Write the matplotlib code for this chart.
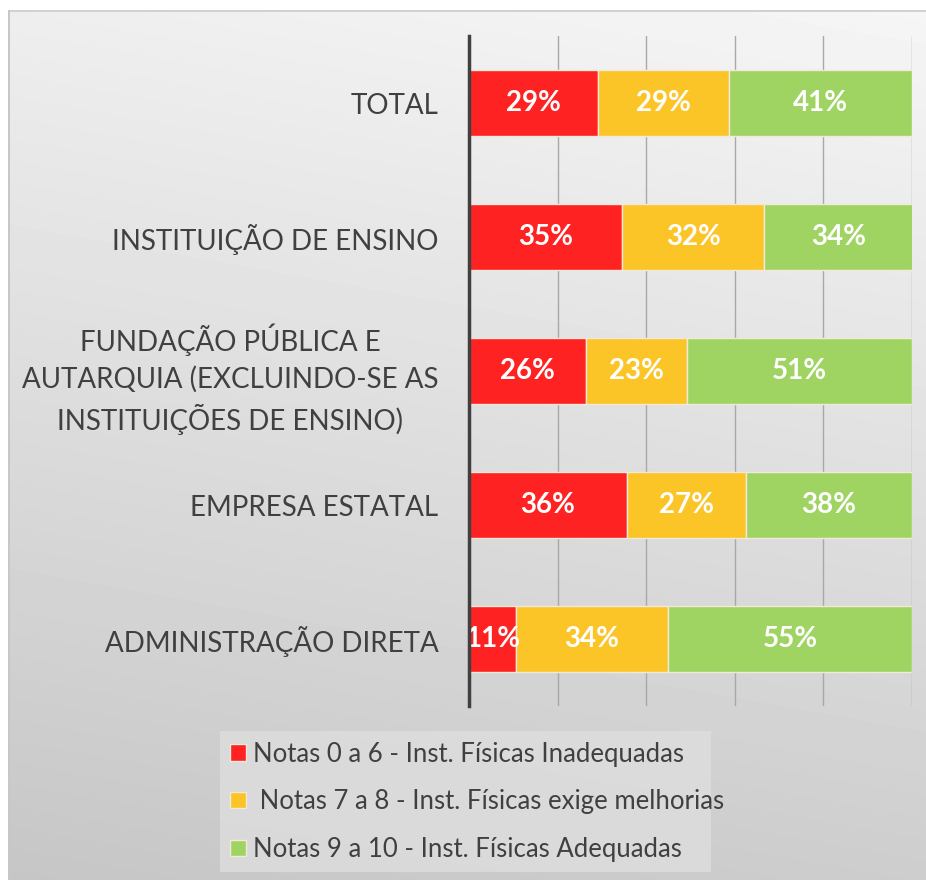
import numpy as np
import matplotlib
matplotlib.use('Agg')
import matplotlib.pyplot as plt

categorias = ['TOTAL', 'INSTITUIÇÃO DE ENSINO',
              'FUNDAÇÃO PÚBLICA E\nAUTARQUIA (EXCLUINDO-SE AS\nINSTITUIÇÕES DE ENSINO)',
              'EMPRESA ESTATAL', 'ADMINISTRAÇÃO DIRETA']
inadequadas = [29.2, 34.6, 26.4, 35.6, 10.6]
melhorias = [29.4, 32.0, 22.8, 26.9, 34.3]
adequadas = [41.4, 33.6, 50.8, 37.5, 55.1]

series = ['Notas 0 a 6 - Inst. Físicas Inadequadas',
          ' Notas 7 a 8 - Inst. Físicas exige melhorias',
          'Notas 9 a 10 - Inst. Físicas Adequadas']
cores = ['#FF2222', '#FBC427', '#9FD462']

plt.rcParams['font.family'] = ['Lato', 'DejaVu Sans']

fig = plt.figure(figsize=(9.26, 8.8), dpi=100)

# fundo em gradiente
H, W = 880, 926
yy, xx = np.mgrid[0:H, 0:W]
fundo = 0.965 - 0.16 * (yy / H) - 0.03 * (1 - xx / W)
fundo[:10, :] = 1.0
fundo[:, :8] = 1.0
fundo[10:12, 8:] = 0.82
fundo[10:, 8:10] = 0.78
bg = fig.add_axes([0, 0, 1, 1], zorder=-1)
bg.imshow(fundo, cmap='gray', vmin=0, vmax=1, aspect='auto', interpolation='bilinear')
bg.axis('off')

ax = fig.add_axes([469 / W, 1 - 706 / H, (912 - 469) / W, (706 - 36) / H])
ax.patch.set_alpha(0)

y = np.arange(len(categorias))
esq = np.zeros(len(categorias))
for vals, nome, cor in zip([inadequadas, melhorias, adequadas], series, cores):
    vals = np.array(vals)
    ax.barh(y, vals, left=esq, height=0.49, color=cor, edgecolor='#F3E9D8',
            linewidth=1, label=nome, zorder=3)
    for yi, l, v in zip(y, esq, vals):
        ax.text(l + v / 2, yi, '%.0f%%' % v, ha='center', va='center',
                color='white', fontsize=20, fontweight='bold', zorder=4)
    esq += vals

ax.set_xlim(0, 100)
ax.set_ylim(len(categorias) - 0.5, -0.5)
ax.set_xticks([0, 20, 40, 60, 80, 100])
ax.set_xticklabels([])
ax.tick_params(axis='x', length=0)
ax.grid(axis='x', color='#A8A8A8', linewidth=1, zorder=0)
ax.set_yticks(y)
ax.set_yticklabels(categorias, fontsize=20, color='#404040', multialignment='center',
                   linespacing=1.45)
ax.tick_params(axis='y', length=0, pad=22)
for s in ['top', 'right', 'bottom']:
    ax.spines[s].set_visible(False)
ax.spines['left'].set_color('#404040')
ax.spines['left'].set_linewidth(2.5)
ax.spines['left'].set_zorder(5)

leg = fig.legend(loc='lower left', bbox_to_anchor=(220 / W, 1 - 872 / H, (711 - 220) / W, (872 - 732) / H),
                 mode='expand', frameon=True, fontsize=18.5, labelcolor='#404040',
                 handlelength=0.6, handleheight=0.6, handletextpad=0.3,
                 labelspacing=0.88, borderaxespad=0, borderpad=0.4, fancybox=False)
leg.get_frame().set_facecolor('#DEDEDE')
leg.get_frame().set_edgecolor('none')

fig.savefig('out.png', dpi=100)
